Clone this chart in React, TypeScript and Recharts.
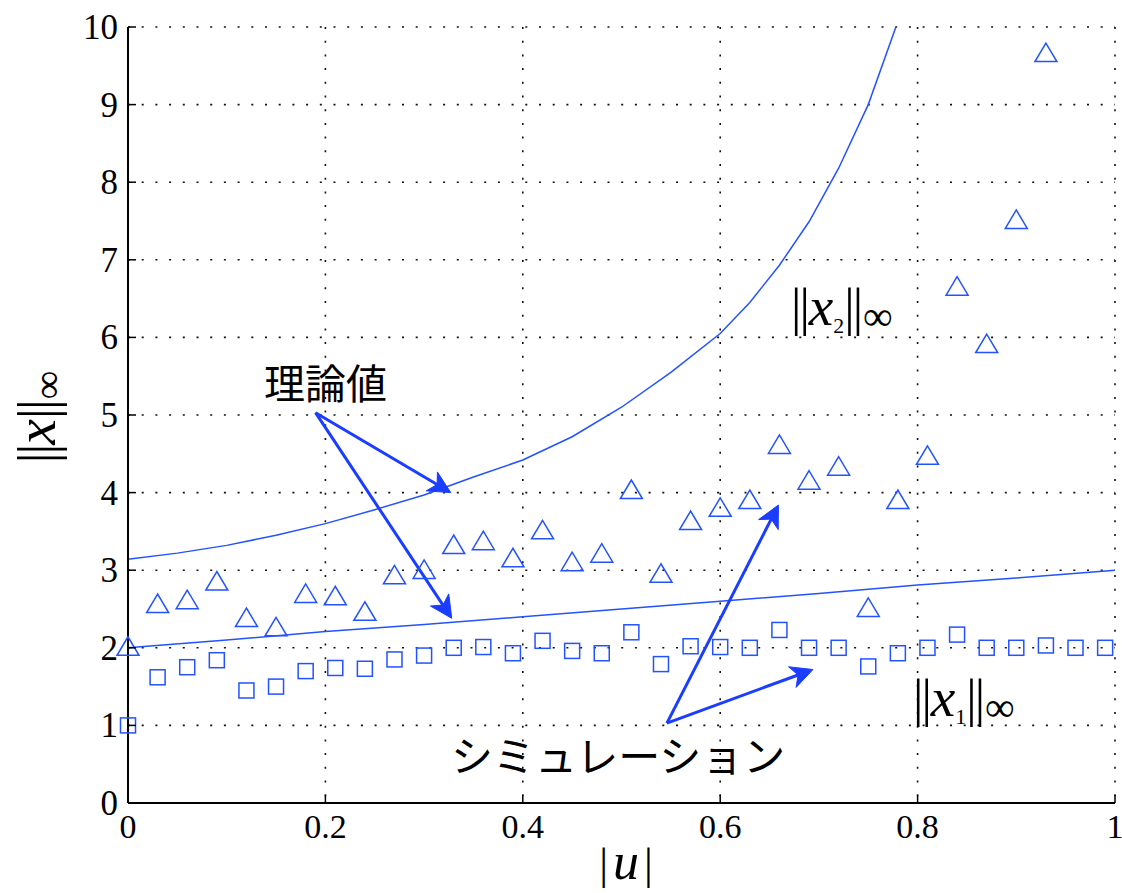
import React from 'react'
import {
  ComposedChart,
  Line,
  Scatter,
  XAxis,
  YAxis,
  CartesianGrid,
  ReferenceLine,
} from 'recharts'

// simulation sweep of |u|
const simU = [
  0, 0.03, 0.06, 0.09, 0.12, 0.15, 0.18, 0.21, 0.24, 0.27, 0.3, 0.33, 0.36, 0.39, 0.42, 0.45, 0.48,
  0.51, 0.54, 0.57, 0.6, 0.63, 0.66, 0.69, 0.72, 0.75, 0.78, 0.81, 0.84, 0.87, 0.9, 0.93, 0.96, 0.99,
]
// ||x1||inf (squares)
const x1Sim = [
  1.0, 1.62, 1.75, 1.84, 1.45, 1.5, 1.7, 1.74, 1.73, 1.85, 1.9, 2.0, 2.01, 1.93, 2.09, 1.96, 1.93,
  2.2, 1.79, 2.02, 2.01, 2.0, 2.23, 2.0, 2.0, 1.76, 1.93, 2.0, 2.17, 2.0, 2.0, 2.03, 2.0, 2.0,
]
// ||x2||inf (triangles), up to |u| = 0.93
const x2Sim = [
  2.02, 2.57, 2.62, 2.86, 2.39, 2.27, 2.7, 2.67, 2.47, 2.94, 3.01, 3.33, 3.38, 3.16, 3.52, 3.11, 3.22,
  4.04, 2.96, 3.64, 3.81, 3.91, 4.62, 4.16, 4.34, 2.52, 3.91, 4.48, 6.66, 5.92, 7.52, 9.67,
]
// theoretical bound for x1
const theoryU1 = [0, 0.1, 0.2, 0.3, 0.4, 0.5, 0.6, 0.7, 0.8, 0.9, 1.0]
const theoryX1 = [2.0, 2.1, 2.21, 2.3, 2.4, 2.5, 2.6, 2.7, 2.81, 2.9, 3.0]
// theoretical bound for x2
const theoryU2 = [0, 0.05, 0.1, 0.15, 0.2, 0.25, 0.3, 0.35, 0.4, 0.45, 0.5, 0.55, 0.6, 0.63, 0.66, 0.69, 0.72, 0.75, 0.778]
const theoryX2 = [3.14, 3.22, 3.32, 3.45, 3.6, 3.78, 3.97, 4.2, 4.42, 4.72, 5.1, 5.55, 6.05, 6.45, 6.93, 7.49, 8.18, 9.0, 10.0]

const xTicks = [0, 0.2, 0.4, 0.6, 0.8, 1]
const yTicks = [0, 1, 2, 3, 4, 5, 6, 7, 8, 9, 10]

const BLUE = '#2352ff'
const ARROW = '#1a3dff'
const SERIF = '"Liberation Serif", "Times New Roman", serif'
const JP = '"Noto Sans CJK JP", "Noto Sans", sans-serif'

const squares = simU.map((u, i) => ({ u, v: x1Sim[i] }))
const triangles = x2Sim.map((v, i) => ({ u: simU[i], v }))
const bound1 = theoryU1.map((u, i) => ({ u, v: theoryX1[i] }))
const bound2 = theoryU2.map((u, i) => ({ u, v: theoryX2[i] }))

const Square = (p: any) => (
  <rect x={p.cx - 7.5} y={p.cy - 7.5} width={15} height={15} fill="none" stroke={BLUE} strokeWidth={1.5} />
)

const Triangle = (p: any) => (
  <polygon
    points={`${p.cx},${p.cy - 9.5} ${p.cx - 11},${p.cy + 9} ${p.cx + 11},${p.cy + 9}`}
    fill="none"
    stroke={BLUE}
    strokeWidth={1.5}
  />
)

const BottomTick = (p: any) => (
  <g>
    <line x1={p.x} y1={p.y} x2={p.x} y2={p.y - 8} stroke="#000" strokeWidth={1.5} />
    <text x={p.x} y={p.y + 35} textAnchor="middle" fontSize={34} fontFamily={SERIF} fill="#000">
      {String(p.payload.value)}
    </text>
  </g>
)

const LeftTick = (p: any) => (
  <g>
    <line x1={p.x} y1={p.y} x2={p.x + 8} y2={p.y} stroke="#000" strokeWidth={1.5} />
    <text x={p.x - 10} y={p.y + 12} textAnchor="end" fontSize={35} fontFamily={SERIF} fill="#000">
      {String(p.payload.value)}
    </text>
  </g>
)

const TopTick = (p: any) => (
  <line x1={p.x} y1={p.y} x2={p.x} y2={p.y + 8} stroke="#000" strokeWidth={1.5} />
)

const RightTick = (p: any) => (
  <line x1={p.x} y1={p.y} x2={p.x - 8} y2={p.y} stroke="#000" strokeWidth={1.5} />
)

const Arrow = (p: any) => {
  const { x1, y1, x2, y2 } = p
  const len = Math.hypot(x2 - x1, y2 - y1)
  const dx = (x2 - x1) / len
  const dy = (y2 - y1) / len
  const L = 22
  const W = 11
  const bx = x2 - L * dx
  const by = y2 - L * dy
  const nx = x2 - 0.72 * L * dx
  const ny = y2 - 0.72 * L * dy
  return (
    <g>
      <line x1={x1} y1={y1} x2={nx} y2={ny} stroke={ARROW} strokeWidth={3} />
      <polygon
        points={`${x2},${y2} ${bx - W * dy},${by + W * dx} ${nx},${ny} ${bx + W * dy},${by - W * dx}`}
        fill={ARROW}
        stroke={ARROW}
        strokeWidth={1}
      />
    </g>
  )
}

// annotation arrows, in data coordinates
const theoryFrom = { x: 0.19, y: 5.03 }
const theoryTo = [
  { x: 0.327, y: 4.0 },
  { x: 0.328, y: 2.38 },
]
const simFrom = { x: 0.546, y: 1.03 }
const simTo = [
  { x: 0.659, y: 3.84 },
  { x: 0.694, y: 1.72 },
]

function Norm({ sub, size, style }: { sub?: string; size: number; style: React.CSSProperties }) {
  return (
    <div
      style={{
        position: 'absolute',
        fontFamily: SERIF,
        fontSize: size,
        lineHeight: 1,
        whiteSpace: 'nowrap',
        color: '#000',
        ...style,
      }}
    >
      <span style={{ letterSpacing: -2 }}>||</span>
      <i style={{ fontSize: size * 1.06, marginLeft: 1 }}>x</i>
      {sub && (
        <span style={{ fontSize: size * 0.42, position: 'relative', top: size * 0.16 }}>{sub}</span>
      )}
      <span style={{ letterSpacing: -2 }}>||</span>
      <span style={{ fontSize: size * 0.8, position: 'relative', top: size * 0.1, marginLeft: 2 }}>∞</span>
    </div>
  )
}

export default function App() {
  return (
    <div style={{ position: 'absolute', left: 0, top: 0, width: 1122, height: 893, background: '#fff', overflow: 'hidden' }}>
      <ComposedChart width={1122} height={893} margin={{ top: 27, right: 7, left: 0, bottom: 0 }}>
        <CartesianGrid stroke="#111" strokeWidth={1.6} strokeDasharray="2 11.7" />
        <XAxis
          dataKey="u"
          type="number"
          domain={[0, 1]}
          ticks={xTicks}
          height={90}
          tickSize={0}
          tickMargin={0}
          tickLine={false}
          axisLine={{ stroke: '#000', strokeWidth: 2 }}
          tick={<BottomTick />}
          interval={0}
        />
        <XAxis
          xAxisId="top"
          orientation="top"
          type="number"
          domain={[0, 1]}
          ticks={xTicks}
          height={0}
          tickSize={0}
          tickMargin={0}
          tickLine={false}
          axisLine={{ stroke: '#000', strokeWidth: 2 }}
          tick={<TopTick />}
          interval={0}
        />
        <YAxis
          type="number"
          domain={[0, 10]}
          ticks={yTicks}
          width={128}
          tickSize={0}
          tickMargin={0}
          tickLine={false}
          axisLine={{ stroke: '#000', strokeWidth: 2 }}
          tick={<LeftTick />}
          interval={0}
        />
        <YAxis
          yAxisId="right"
          orientation="right"
          type="number"
          domain={[0, 10]}
          ticks={yTicks}
          width={0}
          tickSize={0}
          tickMargin={0}
          tickLine={false}
          axisLine={{ stroke: '#000', strokeWidth: 2 }}
          tick={<RightTick />}
          interval={0}
        />
        <Line data={bound1} dataKey="v" type="linear" stroke={BLUE} strokeWidth={1.5} dot={false} isAnimationActive={false} />
        <Line data={bound2} dataKey="v" type="linear" stroke={BLUE} strokeWidth={1.5} dot={false} isAnimationActive={false} />
        <Scatter data={squares} dataKey="v" shape={<Square />} isAnimationActive={false} />
        <Scatter data={triangles} dataKey="v" shape={<Triangle />} isAnimationActive={false} />
        {theoryTo.map((t, i) => (
          <ReferenceLine key={`t${i}`} segment={[theoryFrom, t]} shape={<Arrow />} />
        ))}
        {simTo.map((t, i) => (
          <ReferenceLine key={`s${i}`} segment={[simFrom, t]} shape={<Arrow />} />
        ))}
      </ComposedChart>

      <div style={{ position: 'absolute', left: 264, top: 361, fontFamily: JP, fontSize: 41, lineHeight: 1, color: '#000' }}>
        理論値
      </div>
      <div style={{ position: 'absolute', left: 451, top: 733, fontFamily: JP, fontSize: 42, lineHeight: 1, color: '#000' }}>
        シミュレーション
      </div>

      <Norm sub="2" size={52} style={{ left: 791, top: 279 }} />
      <Norm sub="1" size={52} style={{ left: 913, top: 670 }} />

      <div
        style={{
          position: 'absolute',
          left: 36,
          top: 417,
          transform: 'translate(-50%, -50%) rotate(-90deg)',
          fontFamily: SERIF,
          fontSize: 54,
          lineHeight: 1,
          whiteSpace: 'nowrap',
        }}
      >
        <span style={{ letterSpacing: -2 }}>||</span>
        <i style={{ fontSize: 58, marginLeft: 1 }}>x</i>
        <span style={{ letterSpacing: -2 }}>||</span>
        <span style={{ fontSize: 40, position: 'relative', top: 6, marginLeft: 2 }}>∞</span>
      </div>

      <div
        style={{
          position: 'absolute',
          left: 626,
          top: 836,
          transform: 'translateX(-50%)',
          fontFamily: SERIF,
          fontSize: 44,
          lineHeight: 1,
          whiteSpace: 'nowrap',
        }}
      >
        |<i style={{ fontSize: 52, margin: '0 5px' }}>u</i>|
      </div>
    </div>
  )
}
